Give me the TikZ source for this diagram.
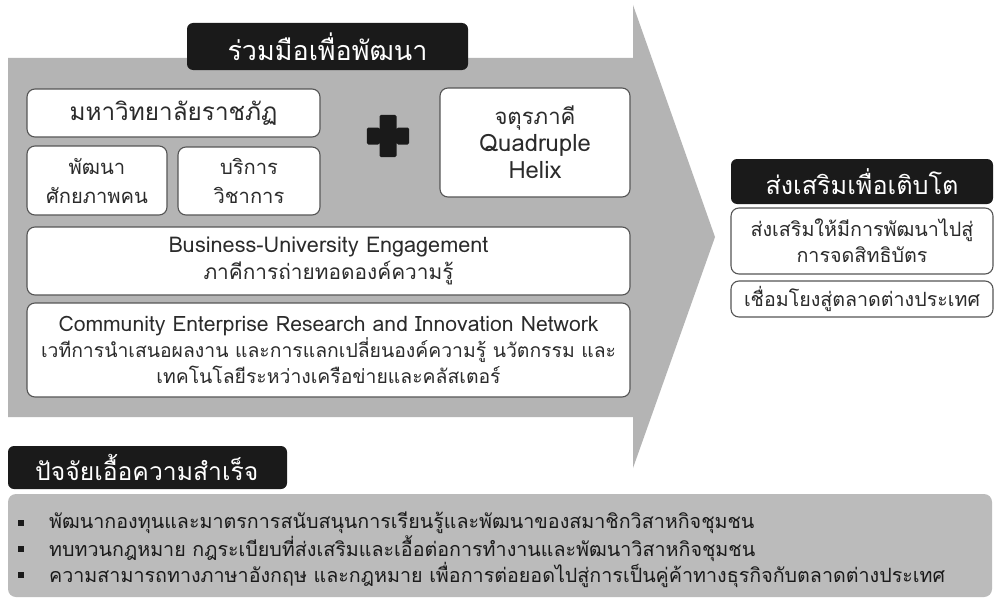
\documentclass[tikz,border=0pt]{standalone}
\usepackage{fontspec}
\setmainfont[Script=Thai]{Loma}
\newlength\fitwd
\newcommand\fitsz[3]{\settowidth\fitwd{\fontsize{10}{12}\selectfont #3}\pgfmathsetmacro#1{10*#2/\fitwd}}
\begin{document}
\fitsz\szHa{200}{ร่วมมือเพื่อพัฒนา}%
\fitsz\szUni{208}{มหาวิทยาลัยราชภัฏ}%
\fitsz\szDev{102}{ศักยภาพคน}%
\fitsz\szQt{81}{จตุรภาคี}%
\fitsz\szQl{112}{Quadruple}%
\fitsz\szBl{320}{Business-University Engagement}%
\fitsz\szBt{250}{ภาคีการถ่ายทอดองค์ความรู้}%
\fitsz\szCl{540}{Community Enterprise Research and Innovation Network}%
\fitsz\szCt{575}{เวทีการนำเสนอผลงาน และการแลกเปลี่ยนองค์ความรู้ นวัตกรรม และ}%
\fitsz\szHb{193}{ส่งเสริมเพื่อเติบโต}%
\fitsz\szPat{223}{ส่งเสริมให้มีการพัฒนาไปสู่}%
\fitsz\szMkt{236}{เชื่อมโยงสู่ตลาดต่างประเทศ}%
\fitsz\szHc{223}{ปัจจัยเอื้อความสำเร็จ}%
\fitsz\szBul{896}{ความสามารถทางภาษาอังกฤษ และกฎหมาย เพื่อการต่อยอดไปสู่การเป็นคู่ค้าทางธุรกิจกับตลาดต่างประเทศ}%
\begin{tikzpicture}[x=1pt,y=-1pt,
  wbox/.style={draw=boxline,line width=1.1pt,fill=white,rounded corners=8pt,inner sep=0pt,text=txt,align=center},
  bbox/.style={fill=headblack,rounded corners=6pt,inner sep=0pt,text=white,align=center},
  fs/.style 2 args={font=\fontsize{#1}{#2}\selectfont}]
\definecolor{arrowgray}{HTML}{B4B4B4}
\definecolor{panelgray}{HTML}{BBBBBB}
\definecolor{boxline}{HTML}{555555}
\definecolor{headblack}{HTML}{1A1A1A}
\definecolor{txt}{HTML}{2B2B2B}
\useasboundingbox (0,0) rectangle (995,602);
\fill[white] (0,0) rectangle (995,602);
% big arrow
\fill[arrowgray] (8,58) -- (633,58) -- (633,5) -- (715,237) -- (633,468) -- (633,417) -- (8,417) -- cycle;
% left column
\node[bbox,minimum width=281pt,minimum height=47pt,fs={\szHa}{26}] (head1) at (327.5,46.5) {ร่วมมือเพื่อพัฒนา};
\node[wbox,minimum width=293pt,minimum height=48pt,fs={\szUni}{26}] (uni) at (173.5,113) {มหาวิทยาลัยราชภัฏ};
\node[wbox,minimum width=140pt,minimum height=69pt,fs={\szDev}{29}] (dev) at (97,180.5) {พัฒนา\\ศักยภาพคน};
\node[wbox,minimum width=142pt,minimum height=68pt,fs={\szDev}{29}] (serv) at (249,181) {บริการ\\วิชาการ};
\node[wbox,minimum width=190pt,minimum height=109pt,fs={\szQl}{27}] (quad) at (535,142.5) {{\fontsize{\szQt}{27}\selectfont จตุรภาคี}\\Quadruple\\Helix};
\node[inner sep=0pt,minimum size=42pt] (plus) at (388,136) {};
\fill[headblack,rounded corners=1.5pt] ([xshift=-8.5pt]plus.north) -- ([xshift=8.5pt]plus.north) -- ([xshift=8.5pt,yshift=-8.5pt]plus.center) -- ([yshift=-8.5pt]plus.east) -- ([yshift=8.5pt]plus.east) -- ([xshift=8.5pt,yshift=8.5pt]plus.center) -- ([xshift=8.5pt]plus.south) -- ([xshift=-8.5pt]plus.south) -- ([xshift=-8.5pt,yshift=8.5pt]plus.center) -- ([yshift=8.5pt]plus.west) -- ([yshift=-8.5pt]plus.west) -- ([xshift=-8.5pt,yshift=-8.5pt]plus.center) -- cycle;
\node[wbox,minimum width=603pt,minimum height=68pt,fs={\szBl}{27}] (bue) at (328.5,261) {Business-University Engagement\\{\fontsize{\szBt}{27}\selectfont ภาคีการถ่ายทอดองค์ความรู้}};
\node[wbox,minimum width=603pt,minimum height=94pt,fs={\szCt}{26}] (cern) at (328.5,350) {{\fontsize{\szCl}{26}\selectfont Community Enterprise Research and Innovation Network}\\เวทีการนำเสนอผลงาน และการแลกเปลี่ยนองค์ความรู้ นวัตกรรม และ\\เทคโนโลยีระหว่างเครือข่ายและคลัสเตอร์};
% right side
\node[bbox,minimum width=262pt,minimum height=45pt,fs={\szHb}{26}] (head2) at (862,181.5) {ส่งเสริมเพื่อเติบโต};
\node[wbox,minimum width=262pt,minimum height=66pt,fs={\szPat}{26}] (pat) at (862,241) {ส่งเสริมให้มีการพัฒนาไปสู่\\การจดสิทธิบัตร};
\node[wbox,minimum width=262pt,minimum height=36pt,fs={\szMkt}{26}] (mkt) at (862,299) {เชื่อมโยงสู่ตลาดต่างประเทศ};
% bottom
\node[bbox,minimum width=279pt,minimum height=43pt] (head3) at (147.5,467.5) {};
\node[anchor=west,text=white,fs={\szHc}{26},inner sep=0pt] (head3t) at (35,467.5) {ปัจจัยเอื้อความสำเร็จ};
\node[fill=panelgray,rounded corners=8pt,minimum width=984pt,minimum height=103pt,inner sep=0pt] (panel) at (500,545.5) {};
\foreach \yy/\itemtext [count=\i] in {523/{พัฒนากองทุนและมาตรการสนับสนุนการเรียนรู้และพัฒนาของสมาชิกวิสาหกิจชุมชน},549/{ทบทวนกฎหมาย กฎระเบียบที่ส่งเสริมและเอื้อต่อการทำงานและพัฒนาวิสาหกิจชุมชน},575/{ความสามารถทางภาษาอังกฤษ และกฎหมาย เพื่อการต่อยอดไปสู่การเป็นคู่ค้าทางธุรกิจกับตลาดต่างประเทศ}}{
  \node[fill=headblack,minimum size=6pt,inner sep=0pt] (bul\i) at (21,\yy) {};
  \node[anchor=west,inner sep=0pt,text=headblack,fs={\szBul}{20}] (item\i) at (49,\yy) {\itemtext};
}
\end{tikzpicture}
\end{document}
